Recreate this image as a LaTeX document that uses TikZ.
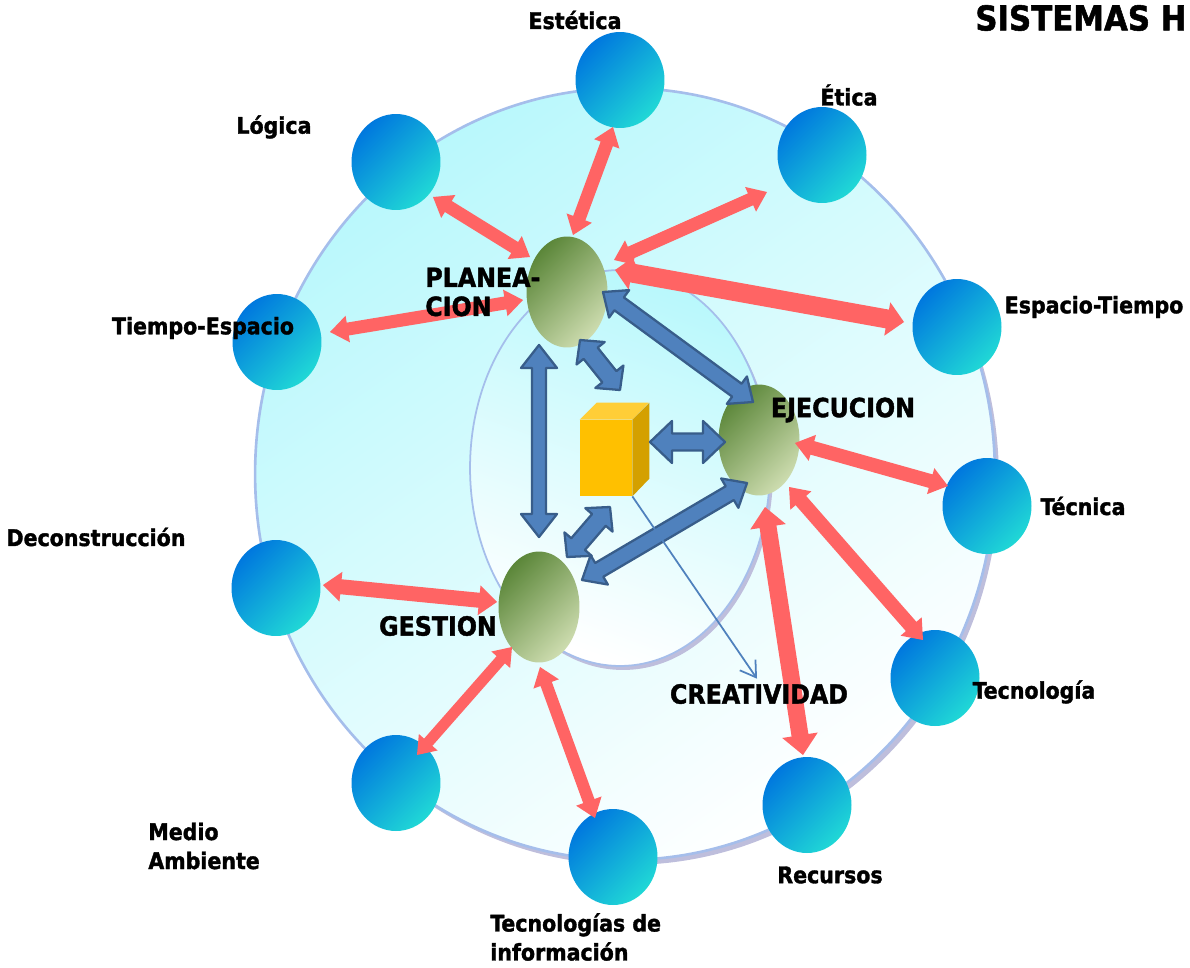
\documentclass[tikz,border=0pt]{standalone}
\usepackage{fontspec}
\newfontfamily\lblfont{DejaVu Sans Condensed}[BoldFeatures={FakeBold=1.5}]
\usetikzlibrary{shapes.geometric,calc,arrows.meta}

\definecolor{bubtl}{RGB}{0,120,222}
\definecolor{bubbr}{RGB}{32,216,214}
\definecolor{seedtl}{RGB}{92,135,58}
\definecolor{seedbr}{RGB}{205,220,175}
\definecolor{arrred}{RGB}{255,100,100}
\definecolor{arrblue}{RGB}{79,129,189}
\definecolor{arrblueline}{RGB}{56,93,138}
\definecolor{boxfront}{RGB}{255,192,0}
\definecolor{boxtop}{RGB}{255,206,55}
\definecolor{boxside}{RGB}{212,160,0}
\definecolor{ringcyan}{RGB}{185,248,252}
\definecolor{ringedge}{RGB}{165,190,235}
\definecolor{ringshadow}{RGB}{190,190,220}

% double block arrow: style, start, end, head length, head half width, shaft half width
\newcommand{\dblarrow}[6]{%
  \coordinate (da) at #2;
  \coordinate (db) at #3;
  \path[#1] (da) -- ($(da)!#4!(db)!#5!90:(db)$) -- ($(da)!#4!(db)!#6!90:(db)$)
    -- ($(db)!#4!(da)!#6!-90:(da)$) -- ($(db)!#4!(da)!#5!-90:(da)$) -- (db)
    -- ($(db)!#4!(da)!#5!90:(da)$) -- ($(db)!#4!(da)!#6!90:(da)$)
    -- ($(da)!#4!(db)!#6!-90:(db)$) -- ($(da)!#4!(db)!#5!-90:(db)$) -- cycle;}

\tikzset{
  bub/.style={ellipse, minimum width=1.78cm, minimum height=1.92cm, inner sep=0pt,
    top color=bubtl, bottom color=bubbr, shading angle=45},
  seed/.style={ellipse, minimum width=1.62cm, minimum height=2.22cm, inner sep=0pt,
    top color=seedtl, bottom color=seedbr, shading angle=45},
  lbl/.style={font=\lblfont\bfseries\fontsize{13}{16.5}\selectfont, inner sep=0pt},
  caplbl/.style={font=\lblfont\bfseries\fontsize{15}{16.5}\selectfont, inner sep=0pt},
  redarr/.style={fill=arrred},
  bluearr/.style={fill=arrblue, draw=arrblueline, line width=1.3pt, line join=round},
}

\begin{document}
\begin{tikzpicture}[x=0.02cm,y=-0.02cm]
  \useasboundingbox (0,0) rectangle (1190,967);

  % rings
  \fill[ringshadow] (629,479) ellipse [x radius=7.4cm, y radius=7.72cm];
  \shade[top color=ringcyan, bottom color=white, shading angle=35] (625,474) ellipse [x radius=7.4cm, y radius=7.72cm];
  \draw[ringedge, line width=1.5pt] (625,474) ellipse [x radius=7.4cm, y radius=7.72cm];
  \fill[ringshadow] (623,472) ellipse [x radius=3cm, y radius=3.96cm];
  \shade[top color=ringcyan, bottom color=white, shading angle=-20] (620,468) ellipse [x radius=3cm, y radius=3.96cm];
  \draw[ringedge, line width=1pt] (620,468) ellipse [x radius=3cm, y radius=3.96cm];

  % outer circles
  \node[bub] (est) at (620,80) {};
  \node[bub] (eti) at (822,155) {};
  \node[bub] (log) at (396,162) {};
  \node[bub] (tie) at (277,342) {};
  \node[bub] (esp) at (957,327) {};
  \node[bub] (tcn) at (987,506) {};
  \node[bub] (dec) at (276,588) {};
  \node[bub] (tgy) at (935,678) {};
  \node[bub] (med) at (396,783) {};
  \node[bub] (rec) at (807,805) {};
  \node[bub] (tin) at (613,857) {};

  % inner nodes
  \node[seed] (pla) at (567,292) {};
  \node[seed] (eje) at (759,440) {};
  \node[seed] (ges) at (539,607) {};

  % box
  \node[fill=boxfront, minimum width=1.04cm, minimum height=1.52cm, inner sep=0pt] (box) at (606,458) {};
  \fill[boxtop] (box.north west) -- ++(17,-17) -- ++(52,0) -- (box.north east) -- cycle;
  \fill[boxside] (box.north east) -- ++(17,-17) -- ++(0,76) -- (box.south east) -- cycle;

  % red arrows
  \dblarrow{redarr}{($(pla)+(6,-57)$)}{($(est)+(-7,47)$)}{0.36cm}{0.27cm}{0.13cm}
  \dblarrow{redarr}{($(pla)+(-37,-35)$)}{($(log)+(37,35)$)}{0.36cm}{0.27cm}{0.13cm}
  \dblarrow{redarr}{($(pla)+(47,-32)$)}{($(eti)+(-55,37)$)}{0.36cm}{0.27cm}{0.13cm}
  \dblarrow{redarr}{($(pla)+(48,-22)$)}{($(esp)+(-53,-5)$)}{0.34cm}{0.34cm}{0.19cm}
  \dblarrow{redarr}{($(pla)+(-44,8)$)}{($(tie)+(53,-10)$)}{0.36cm}{0.27cm}{0.13cm}
  \dblarrow{redarr}{($(eje)+(36,3)$)}{($(tcn)+(-39,-20)$)}{0.36cm}{0.27cm}{0.14cm}
  \dblarrow{redarr}{($(eje)+(30,47)$)}{($(tgy)+(-12,-38)$)}{0.36cm}{0.28cm}{0.14cm}
  \dblarrow{redarr}{($(eje)+(6,67)$)}{($(rec)+(-4,-50)$)}{0.4cm}{0.36cm}{0.17cm}
  \dblarrow{redarr}{($(ges)+(-42,-5)$)}{($(dec)+(47,-3)$)}{0.36cm}{0.3cm}{0.15cm}
  \dblarrow{redarr}{($(ges)+(-27,40)$)}{($(med)+(21,-28)$)}{0.34cm}{0.25cm}{0.11cm}
  \dblarrow{redarr}{($(ges)+(1,60)$)}{($(tin)+(-18,-39)$)}{0.36cm}{0.27cm}{0.12cm}

  % blue arrows
  \dblarrow{bluearr}{($(pla)+(-28,53)$)}{($(ges)+(0,-70)$)}{0.46cm}{0.36cm}{0.14cm}
  \dblarrow{bluearr}{($(pla)+(13,48)$)}{($(box)+(14,-68)$)}{0.34cm}{0.36cm}{0.18cm}
  \dblarrow{bluearr}{($(pla)+(36,0)$)}{($(eje)+(-6,-38)$)}{0.4cm}{0.34cm}{0.16cm}
  \dblarrow{bluearr}{($(box)+(44,-16)$)}{($(eje)+(-34,2)$)}{0.44cm}{0.42cm}{0.17cm}
  \dblarrow{bluearr}{($(ges)+(28,-50)$)}{($(box)+(4,49)$)}{0.34cm}{0.36cm}{0.18cm}
  \dblarrow{bluearr}{($(ges)+(43,-27)$)}{($(eje)+(-12,43)$)}{0.4cm}{0.34cm}{0.16cm}

  % labels
  \node[lbl] (lest) at (575,20) {Estética};
  \node[lbl] (leti) at (849,95) {Ética};
  \node[lbl] (llog) at (274,127) {Lógica};
  \node[lbl] (ltie) at (203,328) {Tiempo-Espacio};
  \node[lbl] (lesp) at (1094,307) {Espacio-Tiempo};
  \node[lbl] (ltcn) at (1083,506) {Técnica};
  \node[lbl] (ldec) at (96,537) {Deconstrucción};
  \node[lbl] (ltgy) at (1034,692) {Tecnología};
  \node[lbl, align=left, anchor=west] (lmed) at (148,846) {Medio\\Ambiente};
  \node[lbl] (lrec) at (830,875) {Recursos};
  \node[lbl, align=left, anchor=west] (ltin) at (490,937) {Tecnologías de\\información};
  \node[caplbl, align=left, anchor=west] (lpla) at (425,292) {PLANEA-\\CION};
  \node[caplbl] (leje) at (843,410) {EJECUCION};
  \node[caplbl] (lges) at (438,626) {GESTION};
  \node[caplbl] (crea) at (759,694) {CREATIVIDAD};
  \node[font=\lblfont\bfseries\fontsize{19.5}{22}\selectfont, inner sep=0pt, anchor=west] (title) at (975,18) {SISTEMAS H};

  \draw[arrblue, line width=1pt, -{Straight Barb[length=0.3cm, width=0.38cm]}] (box.south east) -- ($(crea.north)+(-2,-5)$);
\end{tikzpicture}
\end{document}
